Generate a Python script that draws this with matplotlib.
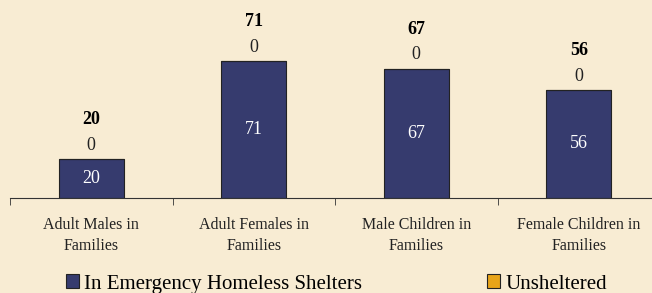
import numpy as np
import matplotlib.pyplot as plt

# data
categories = ["Adult Males in\nFamilies", "Adult Females in\nFamilies",
              "Male Children in\nFamilies", "Female Children in\nFamilies"]
sheltered = [20, 71, 67, 56]
unsheltered = [0, 0, 0, 0]
series_names = ["In Emergency Homeless Shelters", "Unsheltered"]

BG = "#f8ecd3"
NAVY = "#363b6e"
GOLD = "#e8a418"

plt.rcParams["font.family"] = ["Liberation Serif", "DejaVu Serif"]

fig = plt.figure(figsize=(6.52, 2.93), dpi=100, facecolor=BG)
ax = fig.add_axes([10/652, 95/293, 650/652, 198/293], facecolor=BG)

x = np.arange(len(categories))
totals = [s + u for s, u in zip(sheltered, unsheltered)]
b1 = ax.bar(x, sheltered, width=0.4, color=NAVY, edgecolor="#222222",
            linewidth=0.8, label=series_names[0])
b2 = ax.bar(x, unsheltered, width=0.4, bottom=sheltered, color=GOLD,
            edgecolor="#222222", linewidth=0.8, label=series_names[1])

for i in range(len(categories)):
    ax.text(x[i], sheltered[i] / 2, str(sheltered[i]), ha="center",
            va="center", color="white", fontsize=13)
    ax.annotate(str(unsheltered[i]), (x[i], totals[i]), xytext=(0, 10),
                textcoords="offset points", ha="center", va="center",
                fontsize=13, color="#222222")
    ax.annotate(str(totals[i]), (x[i], totals[i]), xytext=(0, 28.5),
                textcoords="offset points", ha="center", va="center",
                fontsize=13, fontweight="bold", color="black")

ax.set_xlim(-0.5, len(categories) - 0.5)
ax.set_ylim(0, 102.6)
for s in ["top", "right", "left"]:
    ax.spines[s].set_visible(False)
ax.spines["bottom"].set_color("#333333")
ax.set_yticks([])
ax.set_xticks(x)
ax.set_xticklabels(categories, fontsize=11.5, color="#222222", linespacing=1.35)
ax.tick_params(axis="x", which="major", length=0, pad=14)
ax.set_xticks(np.arange(len(categories) + 1) - 0.5, minor=True)
ax.tick_params(axis="x", which="minor", length=5, color="#333333")

fig.legend(handles=[b1, b2], loc="center", bbox_to_anchor=(0.516, 9/293),
           ncol=2, frameon=False, fontsize=15, handlelength=0.62,
           handleheight=0.62, handletextpad=0.25, columnspacing=6.0,
           borderpad=0, borderaxespad=0)

fig.savefig("out.png", dpi=100, facecolor=BG)
